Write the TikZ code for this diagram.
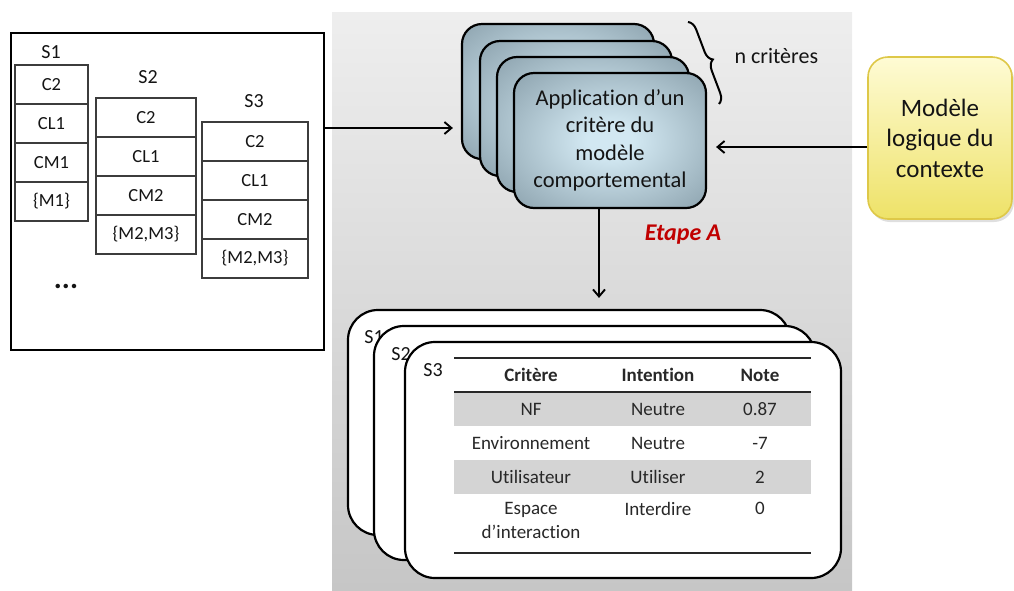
\documentclass[tikz,border=0pt]{standalone}
\usepackage{fontspec}
\setmainfont{Carlito}[RawFeature={-liga;-clig;-dlig}]
\usetikzlibrary{arrows.meta,calc,decorations.pathreplacing,shadows}
\definecolor{panelTop}{RGB}{238,238,238}
\definecolor{panelBot}{RGB}{198,198,198}
\definecolor{boxIn}{RGB}{210,232,242}
\definecolor{boxOut}{RGB}{112,134,146}
\definecolor{yelTop}{RGB}{254,251,212}
\definecolor{yelBot}{RGB}{238,226,104}
\definecolor{yelLine}{RGB}{222,200,72}
\definecolor{etred}{RGB}{192,0,0}
\definecolor{txt}{RGB}{20,20,20}
\definecolor{tabtxt}{RGB}{40,40,40}
\definecolor{rowgray}{RGB}{212,212,212}
\definecolor{cellline}{RGB}{60,60,60}
\pgfdeclareradialshading{critshade}{\pgfpoint{0bp}{0bp}}{color(0bp)=(boxIn); color(6bp)=(boxIn); color(48bp)=(boxOut); color(100bp)=(boxOut)}
\begin{document}
\begin{tikzpicture}[x=1pt,y=-1pt,
  scell/.style={draw=cellline, line width=1.1pt, minimum height=39pt, inner sep=0pt, font=\fontsize{18.5}{22}\selectfont, text=txt},
  slabel/.style={font=\fontsize{20}{24}\selectfont, text=txt, inner sep=0pt},
  critbox/.style={draw=black, line width=2.2pt, rounded corners=20pt, minimum width=192pt, minimum height=135pt, shading=critshade, align=center, font=\fontsize{22.5}{27.5}\selectfont, text=txt},
  resbox/.style={draw=black, line width=2.2pt, rounded corners=30pt, fill=white},
  arr/.style={-{Straight Barb[length=7pt,width=12pt]}, line width=1.9pt},
  tcell/.style={font=\fontsize{19}{24}\selectfont, text=tabtxt, inner sep=0pt, align=center},
  trule/.style={draw=tabtxt, line width=1.4pt}
]
\useasboundingbox (0,0) rectangle (1014,590);
% grey panel
\fill[top color=panelTop,bottom color=panelBot] (332,12) rectangle (852,590);

% left box
\node[draw=black, line width=2.4pt, minimum width=313pt, minimum height=317pt, inner sep=0pt] (lbox) at (167.5,191.5) {};
\node[slabel] (s1) at (51,52) {S1};
\node[slabel] (s2) at (148,77) {S2};
\node[slabel] (s3) at (254,101) {S3};
\begin{scope}[scell/.append style={minimum width=73pt}]
\node[scell] (a1) at (51.5,84.5) {C2};
\node[scell] (a2) at (51.5,123.5) {CL1};
\node[scell] (a3) at (51.5,162.5) {CM1};
\node[scell] (a4) at (51.5,201.5) {\{M1\}};
\end{scope}
\begin{scope}[scell/.append style={minimum width=100pt}]
\node[scell] (b1c) at (146,117.5) {C2};
\node[scell] (b2c) at (146,156.5) {CL1};
\node[scell] (b3c) at (146,195.5) {CM2};
\node[scell] (b4c) at (146,234.5) {\{M2,M3\}};
\end{scope}
\begin{scope}[scell/.append style={minimum width=106pt}]
\node[scell] (c1c) at (255,141.5) {C2};
\node[scell] (c2c) at (255,180.5) {CL1};
\node[scell] (c3c) at (255,219.5) {CM2};
\node[scell] (c4c) at (255,258.5) {\{M2,M3\}};
\end{scope}
\node[font=\fontsize{30}{34}\selectfont\bfseries, text=txt, inner sep=0pt] (dots) at (66,286) {...};

% stacked criteria boxes
\node[critbox] (c1) at (558,91.5) {};
\node[critbox] (c2) at (576,108.5) {};
\node[critbox] (c3) at (593,124.5) {};
\node[critbox] (c4) at (610,140.5) {Application d’un\\critère du\\modèle\\comportemental};

% brace
\coordinate (br1) at (688,22);
\coordinate (br2) at (719,104);
\draw[line width=2pt, decorate, decoration={brace, amplitude=10pt}] (br1) -- (br2);
\node[anchor=west, font=\fontsize{22}{26}\selectfont, text=txt] (ncrit) at (731,56) {n critères};

% context box
\node[draw=yelLine, line width=1.6pt, rounded corners=20pt, minimum width=144pt, minimum height=162pt, top color=yelTop, bottom color=yelBot, align=center, font=\fontsize{25}{30.5}\selectfont, text=txt, drop shadow={shadow xshift=2pt, shadow yshift=-3pt, opacity=0.25}] (ctx) at (940,138) {Modèle\\logique du\\contexte};

% arrows
\coordinate (lin) at ($(lbox.east)+(0,-63.5)$);
\draw[arr, shorten >=8pt] (lin) -- (lin -| c1.west);
\draw[arr, shorten >=9pt] ($(ctx.west)+(0,9)$) -- ($(c4.east)+(0,6.5)$);
\coordinate (dstart) at ($(c4.south)+(-11,0)$);

% result boxes
\node[resbox, minimum width=442pt, minimum height=225pt] (r1) at (569,422.5) {};
\node[slabel] (l1) at (374,337) {S1};
\node[resbox, minimum width=441pt, minimum height=234pt] (r2) at (594.5,443) {};
\node[slabel] (l2) at (401,354) {S2};
\node[resbox, minimum width=436pt, minimum height=236pt] (r3) at (623,460) {};
\node[slabel] (l3) at (433,370) {S3};
\draw[arr, shorten >=11pt] (dstart) -- (dstart |- r1.north);

\node[font=\fontsize{24}{28}\selectfont\bfseries\itshape, text=etred] (etape) at (683,235) {Etape A};

% table
\fill[rowgray] (454,392) rectangle (811,426);
\fill[rowgray] (454,460) rectangle (811,494);
\draw[trule] (454,358) -- (811,358);
\draw[trule] (454,392) -- (811,392);
\draw[trule] (454,553) -- (811,553);
\node[tcell, font=\fontsize{19}{24}\selectfont\bfseries] (h1) at (531,375) {Critère};
\node[tcell, font=\fontsize{19}{24}\selectfont\bfseries] (h2) at (658,375) {Intention};
\node[tcell, font=\fontsize{19}{24}\selectfont\bfseries] (h3) at (760,375) {Note};
\node[tcell] (t11) at (531,409) {NF};
\node[tcell] (t12) at (658,409) {Neutre};
\node[tcell] (t13) at (760,409) {0.87};
\node[tcell] (t21) at (531,443) {Environnement};
\node[tcell] (t22) at (658,443) {Neutre};
\node[tcell] (t23) at (760,443) {-7};
\node[tcell] (t31) at (531,477) {Utilisateur};
\node[tcell] (t32) at (658,477) {Utiliser};
\node[tcell] (t33) at (760,477) {2};
\node[tcell, anchor=north] (t41) at (531,502) {Espace\\d’interaction};
\node[tcell, anchor=north] (t42) at (658,502) {Interdire};
\node[tcell, anchor=north] (t43) at (760,502) {0};
\end{tikzpicture}
\end{document}
